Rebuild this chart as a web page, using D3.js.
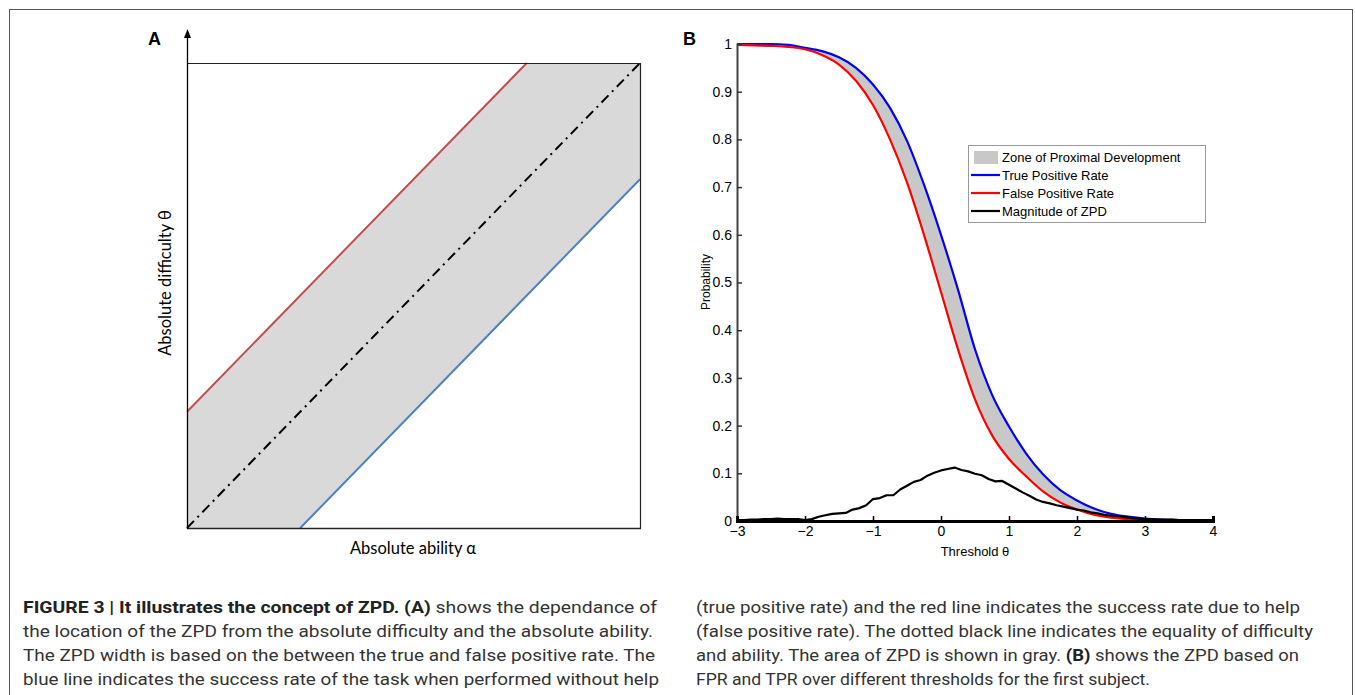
<!DOCTYPE html>
<html>
<head>
<meta charset="utf-8">
<script src="https://cdn.jsdelivr.net/npm/d3@7"></script>
<style>
  body { margin: 0; background: #fff; }
  .caption { font-family: Roboto, "Liberation Sans", sans-serif; font-size: 16.5px; fill: #333; }
</style>
</head>
<body>
<div id="chart"></div>
<script>
// ---- Data ----
// Panel A (ability alpha vs difficulty theta, unit square)
var diagonal = [[0, 0], [1, 1]];
var fprLineA = [[0, 0.25], [0.75, 1]];   // red (help)
var tprLineA = [[0.25, 0], [1, 0.75]];   // blue (no help)
var zoneA = [[0, 0], [0, 0.25], [0.75, 1], [1, 1], [1, 0.75], [0.25, 0]];

// Panel B: rates over thresholds
var thresholds = [-3, -2.75, -2.5, -2.25, -2, -1.75, -1.5, -1.25, -1, -0.75, -0.5, -0.25,
  0, 0.25, 0.5, 0.75, 1, 1.25, 1.5, 1.75, 2, 2.25, 2.5, 2.75, 3, 3.25, 3.5, 3.75, 4];
var tpr = [1.000, 1.000, 1.000, 0.998, 0.992, 0.985, 0.972, 0.950, 0.915, 0.866, 0.797, 0.705,
  0.600, 0.485, 0.360, 0.265, 0.198, 0.142, 0.098, 0.065, 0.043, 0.026, 0.015, 0.009, 0.005, 0.003, 0.002, 0.001, 0.001];
var fpr = [0.998, 0.997, 0.996, 0.994, 0.989, 0.977, 0.957, 0.923, 0.872, 0.800, 0.710, 0.600,
  0.480, 0.360, 0.255, 0.180, 0.130, 0.094, 0.062, 0.039, 0.024, 0.013, 0.007, 0.004, 0.002, 0.001, 0.001, 0.000, 0.000];

var zpdThresholds = d3.range(71).map(function(i) { return -3 + i / 10; });
var zpd = [0.002, 0.002, 0.003, 0.003, 0.004, 0.004, 0.005, 0.004, 0.004, 0.004,
  0.002, 0.004, 0.009, 0.012, 0.015, 0.016, 0.017, 0.024, 0.027, 0.033,
  0.046, 0.048, 0.054, 0.054, 0.066, 0.074, 0.082, 0.086, 0.095, 0.101,
  0.106, 0.109, 0.112, 0.107, 0.104, 0.099, 0.096, 0.088, 0.083, 0.084,
  0.076, 0.068, 0.060, 0.053, 0.045, 0.040, 0.037, 0.033, 0.030, 0.027,
  0.024, 0.022, 0.018, 0.016, 0.013, 0.011, 0.010, 0.008, 0.006, 0.005,
  0.004, 0.004, 0.003, 0.003, 0.003, 0.002, 0.002, 0.002, 0.002, 0.002, 0.002];

var xTicks = [-3, -2, -1, 0, 1, 2, 3, 4];
var yTicks = [0, 0.1, 0.2, 0.3, 0.4, 0.5, 0.6, 0.7, 0.8, 0.9, 1];
var legendItems = ["Zone of Proximal Development", "True Positive Rate", "False Positive Rate", "Magnitude of ZPD"];

var captionLeft = [
  [["FIGURE 3 | It illustrates the concept of ZPD. ", true], ["(A)", true], [" shows the dependance of", false]],
  [["the location of the ZPD from the absolute difficulty and the absolute ability.", false]],
  [["The ZPD width is based on the between the true and false positive rate. The", false]],
  [["blue line indicates the success rate of the task when performed without help", false]]
];
var captionRight = [
  [["(true positive rate) and the red line indicates the success rate due to help", false]],
  [["(false positive rate). The dotted black line indicates the equality of difficulty", false]],
  [["and ability. The area of ZPD is shown in gray. ", false], ["(B)", true], [" shows the ZPD based on", false]],
  [["FPR and TPR over different thresholds for the first subject.", false]]
];

// ---- Svg ----
var svg = d3.select("#chart")
  .append("svg")
  .attr("width", 1355)
  .attr("height", 695);

// outer frame
svg.append("rect")
  .attr("x", 9.5).attr("y", 9.5)
  .attr("width", 1343).attr("height", 720)
  .attr("fill", "none")
  .attr("stroke", "#555")
  .attr("stroke-width", 1);

// ---- Panel A ----
var ax = d3.scaleLinear().domain([0, 1]).range([187, 640]);
var ay = d3.scaleLinear().domain([0, 1]).range([528, 63]);
var lineA = d3.line().x(function(d) { return ax(d[0]); }).y(function(d) { return ay(d[1]); });

svg.append("path")
  .attr("d", lineA(zoneA) + "Z")
  .attr("fill", "#d9d9d9");

svg.append("path").attr("d", lineA(fprLineA))
  .attr("fill", "none").attr("stroke", "#c0504d").attr("stroke-width", 2);
svg.append("path").attr("d", lineA(tprLineA))
  .attr("fill", "none").attr("stroke", "#4f81bd").attr("stroke-width", 2);
svg.append("path").attr("d", lineA(diagonal))
  .attr("fill", "none").attr("stroke", "#000").attr("stroke-width", 2)
  .attr("stroke-dasharray", "10,5,2,5");

// box top and right
svg.append("path")
  .attr("d", "M" + ax(0) + "," + (ay(1) + 0.5) + "H" + (ax(1) + 0.5) + "V" + ay(0))
  .attr("fill", "none").attr("stroke", "#222").attr("stroke-width", 1.2);
// bottom axis
svg.append("line")
  .attr("x1", ax(0)).attr("x2", ax(1) + 1)
  .attr("y1", ay(0) + 0.5).attr("y2", ay(0) + 0.5)
  .attr("stroke", "#222").attr("stroke-width", 1.5);
// left axis with arrow
svg.append("line")
  .attr("x1", ax(0) + 0.5).attr("x2", ax(0) + 0.5)
  .attr("y1", ay(0) + 1).attr("y2", 36)
  .attr("stroke", "#000").attr("stroke-width", 1.3);
svg.append("path")
  .attr("d", "M" + (ax(0) + 0.5) + ",29 L" + (ax(0) + 4) + ",38 L" + (ax(0) - 3) + ",38 Z")
  .attr("fill", "#000");

svg.append("text")
  .attr("x", 413).attr("y", 554)
  .attr("text-anchor", "middle")
  .style("font-family", "Lato, 'Open Sans', sans-serif")
  .style("font-size", "16.5px")
  .text("Absolute ability α");

svg.append("text")
  .attr("transform", "translate(171,283) rotate(-90)")
  .attr("text-anchor", "middle")
  .style("font-family", "Lato, 'Open Sans', sans-serif")
  .style("font-size", "16.5px")
  .text("Absolute difficulty θ");

svg.append("text")
  .attr("x", 148).attr("y", 45)
  .style("font-family", "'Liberation Sans', Arial, sans-serif")
  .style("font-weight", "bold").style("font-size", "18px")
  .text("A");

// ---- Panel B ----
var bx = d3.scaleLinear().domain([-3, 4]).range([737, 1213]);
var by = d3.scaleLinear().domain([0, 1]).range([521, 44]);

var area = d3.area()
  .x(function(d, i) { return bx(thresholds[i]); })
  .y0(function(d, i) { return by(fpr[i]); })
  .y1(function(d, i) { return by(tpr[i]); })
  .curve(d3.curveMonotoneX);

svg.append("path")
  .attr("d", area(thresholds))
  .attr("fill", "#c8c8c8");

function rateLine(values, xs, curve) {
  return d3.line()
    .x(function(d, i) { return bx(xs[i]); })
    .y(function(d) { return by(d); })
    .curve(curve)(values);
}

svg.append("path").attr("d", rateLine(tpr, thresholds, d3.curveMonotoneX))
  .attr("fill", "none").attr("stroke", "#0000ff").attr("stroke-width", 2.2);
svg.append("path").attr("d", rateLine(fpr, thresholds, d3.curveMonotoneX))
  .attr("fill", "none").attr("stroke", "#ff0000").attr("stroke-width", 2.2);
svg.append("path").attr("d", rateLine(zpd, zpdThresholds, d3.curveLinear))
  .attr("fill", "none").attr("stroke", "#000").attr("stroke-width", 2.2)
  .attr("stroke-linejoin", "bevel");

// axes (ticks point inward)
function styleTicks(g) {
  g.selectAll(".tick text")
    .attr("font-family", "'Liberation Sans', Arial, sans-serif")
    .attr("font-size", 14).attr("fill", "#000");
}

svg.append("g")
  .attr("transform", "translate(737,0)")
  .attr("font-size", 14)
  .call(d3.axisLeft(by).tickValues(yTicks).tickSize(-5).tickPadding(5)
    .tickFormat(d3.format("~g")))
  .call(function(g) {
    g.select(".domain").attr("stroke", "#444").attr("stroke-width", 2);
    g.selectAll(".tick line").attr("stroke", "#333").attr("stroke-width", 1.5);
    styleTicks(g);
  });

svg.append("g")
  .attr("transform", "translate(0,521)")
  .call(d3.axisBottom(bx).tickValues(xTicks).tickSize(-5).tickPadding(5)
    .tickFormat(d3.format("")))
  .call(function(g) {
    g.select(".domain").attr("stroke", "#000").attr("stroke-width", 3);
    g.selectAll(".tick line").attr("stroke", "#000").attr("stroke-width", 1.5);
    styleTicks(g);
  });

svg.append("text")
  .attr("transform", "translate(710,282) rotate(-90)")
  .attr("text-anchor", "middle")
  .style("font-family", "'Liberation Sans', Arial, sans-serif")
  .style("font-size", "12px")
  .text("Probability");

svg.append("text")
  .attr("x", 975).attr("y", 556)
  .attr("text-anchor", "middle")
  .style("font-family", "'Liberation Sans', Arial, sans-serif")
  .style("font-size", "13px")
  .text("Threshold θ");

svg.append("text")
  .attr("x", 683).attr("y", 45)
  .style("font-family", "'Liberation Sans', Arial, sans-serif")
  .style("font-weight", "bold").style("font-size", "18px")
  .text("B");

// legend
var legend = svg.append("g").attr("transform", "translate(968,145)");
legend.append("rect")
  .attr("x", 0.5).attr("y", 0.5)
  .attr("width", 237).attr("height", 77)
  .attr("fill", "#fff").attr("stroke", "#999");

var legendColors = ["#c8c8c8", "#0000ff", "#ff0000", "#000"];
legendItems.forEach(function(name, i) {
  var cy = 12 + i * 18;
  if (i == 0) {
    legend.append("rect")
      .attr("x", 6).attr("y", cy - 6).attr("width", 24).attr("height", 13)
      .attr("fill", legendColors[i]);
  } else {
    legend.append("line")
      .attr("x1", 3).attr("x2", 32).attr("y1", cy).attr("y2", cy)
      .attr("stroke", legendColors[i]).attr("stroke-width", 2.2);
  }
  legend.append("text")
    .attr("x", 34).attr("y", cy + 4.5)
    .style("font-family", "'Liberation Sans', Arial, sans-serif")
    .style("font-size", "13px")
    .text(name);
});

// ---- Caption ----
var baselines = [613, 637, 661, 685];
var leftEnds = [657, 653, 655, 659];
var rightEnds = [1300, 1313, 1299, 1150];

function addCaption(lines, x0, ends) {
  lines.forEach(function(parts, i) {
    var t = svg.append("text")
      .attr("class", "caption")
      .attr("x", x0).attr("y", baselines[i])
      .attr("textLength", ends[i] - x0)
      .attr("lengthAdjust", "spacingAndGlyphs");
    parts.forEach(function(p) {
      t.append("tspan")
        .style("font-weight", p[1] ? "bold" : "normal")
        .style("fill", p[1] ? "#222" : "#333")
        .text(p[0]);
    });
  });
}
addCaption(captionLeft, 23, leftEnds);
addCaption(captionRight, 696, rightEnds);
</script>
</body>
</html>
